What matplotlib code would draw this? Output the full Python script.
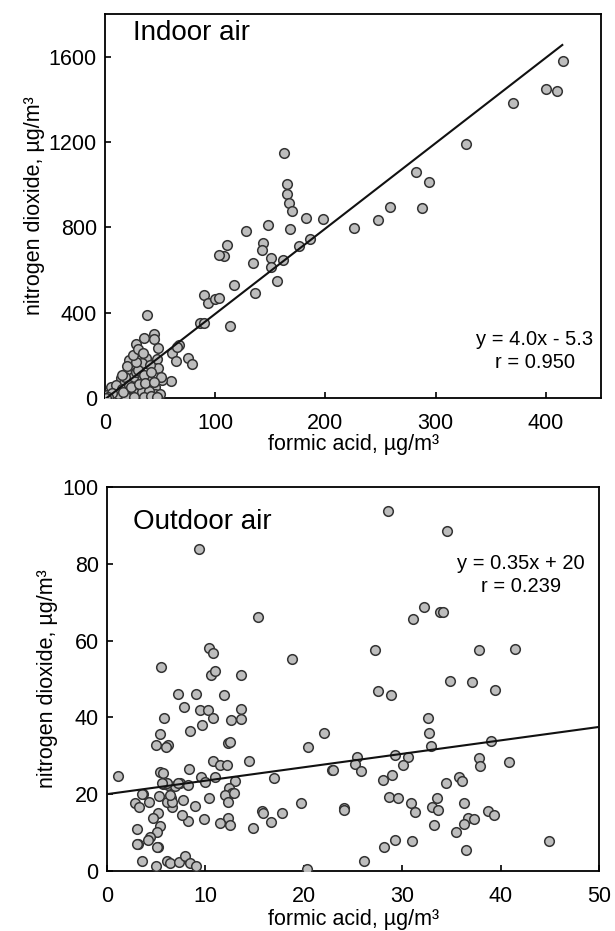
import matplotlib
matplotlib.use("Agg")
import matplotlib.pyplot as plt

plt.rcParams['font.family'] = ['Liberation Sans', 'DejaVu Sans']

# Indoor air: formic acid vs nitrogen dioxide (ug/m3)
indoor_formic = [162, 165, 165, 167, 170, 182, 198, 168, 186, 176, 161, 148, 128, 143, 142,
                 151, 151, 134, 156, 136, 117, 111, 108, 103, 90, 93, 100, 103, 113, 86, 90,
                 282, 294, 288, 259, 248, 226, 328, 370, 400, 410, 416,
                 38, 28, 35, 44, 44, 48, 61, 67, 65, 64, 75, 79, 22, 37, 47, 60, 52, 48,
                 14, 20, 26, 33, 41, 17, 24, 32, 39, 51, 5, 11, 20, 29, 38, 45,
                 2, 8, 14, 23, 30, 38, 45, 50,
                 10, 15, 25, 28, 18, 30, 35, 42, 22, 12, 27, 33, 40, 6, 3, 1, 19, 26,
                 35, 42, 47, 16, 23, 31, 36, 44, 20, 28, 25, 30, 34, 15]
indoor_no2 = [1150, 1002, 956, 913, 878, 845, 838, 794, 747, 714, 645, 811, 781, 725, 695,
              658, 616, 631, 549, 494, 528, 717, 666, 670, 483, 444, 463, 470, 337, 350, 350,
              1061, 1014, 892, 897, 834, 795, 1190, 1385, 1450, 1440, 1580,
              389, 253, 280, 299, 275, 233, 209, 248, 241, 173, 186, 159, 178, 186, 181, 80, 84, 142,
              92, 123, 147, 162, 155, 69, 76, 84, 92, 100, 53, 37, 37, 45, 53, 53,
              14, 9, 14, 9, 14, 14, 19, 19,
              60, 40, 100, 120, 100, 130, 110, 120, 60, 20, 25, 30, 35, 25, 5, 2, 5, 4,
              6, 8, 7, 28, 50, 65, 70, 75, 150, 170, 200, 230, 210, 110]

# Outdoor air
outdoor_formic = [9.3, 15.3, 10.4, 10.8, 10.6, 11.0, 13.6, 5.5, 7.2, 9.0, 11.9, 7.8, 9.4, 10.3,
                  10.8, 13.6, 12.6, 13.6, 5.8, 9.7, 8.4, 5.4, 5.0, 6.2, 6.0, 12.3, 12.5, 14.4,
                  10.8, 11.5, 12.2, 5.4, 5.7, 8.3, 1.1, 9.6, 10.0, 11.0, 13.0, 5.7, 6.2, 6.9,
                  7.4, 8.2, 12.4, 12.7, 3.7, 2.8, 3.3, 4.3, 5.3, 6.5, 6.4, 6.6, 7.7, 8.9, 10.4,
                  12.0, 12.3, 15.8, 17.0, 22.9, 24.1, 19.7, 17.8, 15.9, 16.7, 14.8, 12.3, 12.5,
                  11.5, 9.9, 8.2, 7.6, 12.9, 5.2, 4.7, 5.4, 5.1, 3.0, 4.4, 3.1, 5.2, 3.6, 6.1,
                  6.6, 6.4, 7.2, 6.1, 5.6,
                  3.0, 4.2, 5.1, 3.6, 5.0, 6.1, 6.4, 7.3, 7.9, 8.4, 9.0, 20.3, 26.1, 28.2, 29.3,
                  31.0, 36.5, 44.9,
                  28.6, 31.1, 32.2, 33.8, 18.8, 27.2, 27.5, 28.9, 32.6, 32.7, 32.9, 22.1, 20.4,
                  25.4, 25.2, 25.8, 23.0, 29.3, 30.6, 30.1, 29.0, 28.0, 28.7, 29.6, 30.9, 31.3,
                  33.0, 33.6, 24.1,
                  34.6, 34.1, 37.8, 41.5, 34.9, 37.1, 39.4, 39.0, 37.8, 37.9, 40.9, 34.5, 35.8,
                  36.1, 33.5, 36.3, 38.7, 39.3, 36.7, 37.3, 33.2, 36.3, 35.5]
outdoor_no2 = [83.9, 66.2, 58.0, 56.7, 51.0, 52.1, 51.0, 53.0, 46.0, 46.0, 45.8, 42.6, 41.9, 41.8,
               39.7, 42.2, 39.3, 39.5, 39.7, 38.0, 36.5, 35.6, 32.8, 32.8, 32.2, 33.2, 33.6, 28.6,
               28.6, 27.6, 27.6, 25.8, 25.6, 26.5, 24.7, 24.4, 23.1, 24.5, 23.3, 22.7, 22.4, 22.0,
               22.8, 22.4, 21.5, 20.4, 20.1, 17.6, 16.7, 18.0, 19.5, 18.9, 17.8, 16.7, 18.5, 16.9,
               18.9, 19.8, 18.0, 15.7, 24.1, 26.3, 16.3, 17.6, 15.2, 15.1, 12.8, 11.1, 13.7, 12.0,
               12.6, 13.4, 13.0, 14.6, 20.2, 15.1, 13.7, 11.7, 10.2, 10.9, 8.8, 7.0, 6.3, 20.0, 18.0,
               18.0, 19.8, 22.8, 22.8, 22.8,
               7.0, 8.1, 6.2, 2.7, 1.4, 2.7, 2.0, 2.4, 3.9, 2.0, 1.4, 0.4, 2.6, 6.3, 8.1,
               7.8, 5.5, 7.8,
               93.6, 65.5, 68.8, 67.5, 55.1, 57.6, 46.9, 45.8, 39.8, 35.9, 32.6, 35.9, 32.4,
               29.6, 27.9, 25.9, 26.3, 30.2, 29.8, 27.6, 25.0, 23.7, 19.3, 19.1, 17.6, 15.4,
               16.7, 15.9, 16.0,
               88.4, 67.3, 57.6, 57.8, 49.5, 49.3, 47.1, 33.9, 29.3, 27.3, 28.3, 23.0, 24.5,
               23.5, 18.9, 17.8, 15.7, 14.6, 13.7, 13.5, 12.0, 12.2, 10.2]

indoor_fit = (4.0, -5.3, 415)
outdoor_fit = (0.35, 20, 50)

fig = plt.figure(figsize=(6.15, 9.31), dpi=100)
ax1 = fig.add_axes([0.171, 0.5725, 0.806, 0.4125])
ax2 = fig.add_axes([0.174, 0.0645, 0.80, 0.4125])

mstyle = dict(s=48, c='#bdbdbd', edgecolors='#333333', linewidths=1.1, zorder=3)
ylab = "nitrogen dioxide, \u00b5g/m\u00b3"
xlab = "formic acid, \u00b5g/m\u00b3"


def style(ax):
    for sp in ax.spines.values():
        sp.set_linewidth(1.3)
    ax.tick_params(direction='in', length=4, width=1.2, labelsize=15.5)
    ax.tick_params(axis='x', pad=11)
    ax.tick_params(axis='y', pad=6)


# Indoor panel
ax1.scatter(indoor_formic, indoor_no2, **mstyle)
m, b, xe = indoor_fit
ax1.plot([0, xe], [m * 0 + b, m * xe + b], color='#111111', lw=1.5, zorder=4)
ax1.set_xlim(0, 450)
ax1.set_ylim(0, 1800)
ax1.set_xticks([0, 100, 200, 300, 400])
ax1.set_yticks([0, 400, 800, 1200, 1600])
ax1.set_xlabel(xlab, fontsize=15.5, labelpad=0)
ax1.set_ylabel(ylab, fontsize=15.5, labelpad=3)
ax1.text(0.056, 0.95, "Indoor air", transform=ax1.transAxes, fontsize=20, va='center')
ax1.text(0.867, 0.122, "y = 4.0x - 5.3\nr = 0.950", transform=ax1.transAxes,
         fontsize=14.5, ha='center', va='center', linespacing=1.25)
style(ax1)

# Outdoor panel
ax2.scatter(outdoor_formic, outdoor_no2, **mstyle)
m, b, xe = outdoor_fit
ax2.plot([0, xe], [b, m * xe + b], color='#111111', lw=1.5, zorder=4)
ax2.set_xlim(0, 50)
ax2.set_ylim(0, 100)
ax2.set_xticks([0, 10, 20, 30, 40, 50])
ax2.set_yticks([0, 20, 40, 60, 80, 100])
ax2.set_xlabel(xlab, fontsize=15.5, labelpad=1)
ax2.set_ylabel(ylab, fontsize=15.5, labelpad=3)
ax2.text(0.053, 0.909, "Outdoor air", transform=ax2.transAxes, fontsize=20, va='center')
ax2.text(0.842, 0.771, "y = 0.35x + 20\nr = 0.239", transform=ax2.transAxes,
         fontsize=14.5, ha='center', va='center', linespacing=1.25)
style(ax2)

fig.savefig("out.png", dpi=100)
